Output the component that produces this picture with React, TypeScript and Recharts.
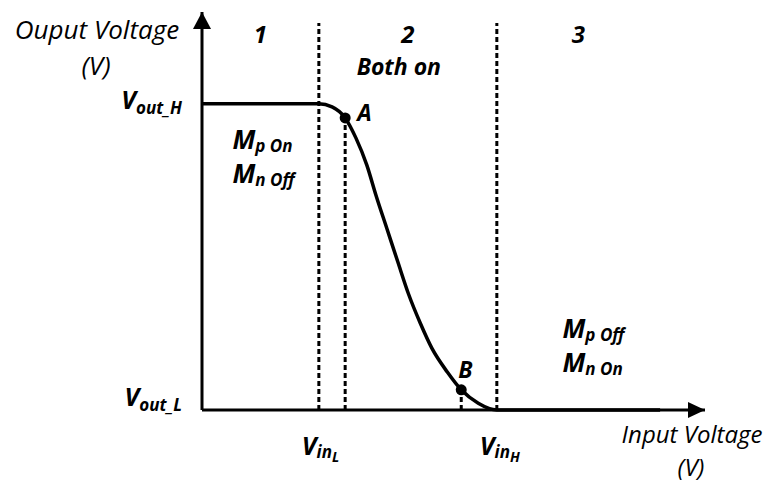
import React from "react";
import {
  LineChart,
  Line,
  XAxis,
  YAxis,
  ReferenceLine,
  ReferenceDot,
  ReferenceArea,
  Label,
} from "recharts";

// inverter transfer curve
const inputVoltage = [0, 1.51, 1.68, 1.85, 1.99, 2.13, 2.25, 2.39, 2.53, 2.67, 2.82, 2.97, 3.17, 3.35, 3.57, 3.81, 5.92];
const outputVoltage = [5, 5, 4.95, 4.77, 4.44, 4.0, 3.5, 2.96, 2.42, 1.89, 1.42, 1.01, 0.62, 0.33, 0.11, 0, 0];

const axisMax = 6.5;
const dashTop = 6.32;

const regionBounds = [0, 1.51, 3.81, 5.92];
const regionNames = ["1", "2", "3"];

const pointNames = ["A", "B"];
const pointVin = [1.85, 3.35];
const pointVout = [4.77, 0.33];

const outputTicks = [0, 5];
const outputTickSubs = ["out_L", "out_H"];
const inputTicks = [1.51, 3.81];
const inputTickSubs = ["L", "H"];

const data = inputVoltage.map((vin, i) => ({ vin, vout: outputVoltage[i] }));

const FONT = "'Open Sans', 'DejaVu Sans', sans-serif";
const bold = { fontFamily: FONT, fontWeight: 700, fontStyle: "italic" as const, fill: "#000" };
const plain = { fontFamily: FONT, fontWeight: 400, fontStyle: "italic" as const, fill: "#000" };

function OutTick(props: any) {
  const { x, y, payload } = props;
  const i = outputTicks.indexOf(payload.value);
  const dy = payload.value === 0 ? -4 : 5;
  return (
    <text x={x} y={y + dy} textAnchor="end" {...bold}>
      <tspan fontSize={25}>V</tspan>
      <tspan fontSize={17} dy={5}>{outputTickSubs[i]}</tspan>
    </text>
  );
}

function InTick(props: any) {
  const { x, y, payload } = props;
  const i = inputTicks.indexOf(payload.value);
  return (
    <text x={x - 17} y={y} {...bold}>
      <tspan fontSize={25}>V</tspan>
      <tspan fontSize={17} dy={3}>in</tspan>
      <tspan fontSize={14} dy={4}>{inputTickSubs[i]}</tspan>
    </text>
  );
}

function MLabel({ x, y, sub }: { x: number; y: number; sub: string }) {
  return (
    <text x={x} y={y} {...bold}>
      <tspan fontSize={26}>M</tspan>
      <tspan fontSize={17} dy={3}>{sub}</tspan>
    </text>
  );
}

function RegionLabel(props: any) {
  const { viewBox, idx } = props;
  const cx = viewBox.x + viewBox.width / 2;
  return (
    <g>
      <text x={cx} y={43} textAnchor="middle" fontSize={24} {...bold}>
        {regionNames[idx]}
      </text>
      {idx === 0 && (
        <>
          <MLabel x={cx - 28} y={149} sub="p On" />
          <MLabel x={cx - 28} y={183} sub="n Off" />
        </>
      )}
      {idx === 1 && (
        <text x={cx - 9} y={75} textAnchor="middle" fontSize={23} {...bold}>
          Both on
        </text>
      )}
      {idx === 2 && (
        <>
          <MLabel x={cx - 16} y={338} sub="p Off" />
          <MLabel x={cx - 16} y={372} sub="n On" />
        </>
      )}
    </g>
  );
}

function YTitle() {
  return (
    <g>
      <text x={97} y={39} textAnchor="middle" fontSize={26} {...plain}>Ouput Voltage</text>
      <text x={96} y={75} textAnchor="middle" fontSize={26} {...plain}>(V)</text>
    </g>
  );
}

function XTitle() {
  return (
    <g>
      <text x={692} y={443} textAnchor="middle" fontSize={24} {...plain}>Input Voltage</text>
      <text x={691} y={476} textAnchor="middle" fontSize={24} {...plain}>(V)</text>
    </g>
  );
}

const pointShape = (idx: number) => (p: any) => {
  const dx = idx === 0 ? 12 : -3;
  const dy = idx === 0 ? 3 : -12;
  return (
    <g>
      <circle cx={p.cx} cy={p.cy} r={5.5} fill="#000" />
      <text x={p.cx + dx} y={p.cy + dy} fontSize={23} {...bold}>
        {pointNames[idx]}
      </text>
    </g>
  );
};

const upArrow = (p: any) => (
  <polygon points={`${p.cx},${p.cy} ${p.cx - 9},${p.cy + 17} ${p.cx + 9},${p.cy + 17}`} fill="#000" />
);
const rightArrow = (p: any) => (
  <polygon points={`${p.cx},${p.cy} ${p.cx - 17},${p.cy - 8} ${p.cx - 17},${p.cy + 8}`} fill="#000" />
);

const dash = { stroke: "#000", strokeWidth: 3, strokeDasharray: "5 3" };

export default function App() {
  return (
    <div style={{ position: "absolute", left: 0, top: 0, width: 776, height: 482, background: "#fff" }}>
      <LineChart width={776} height={482} data={data} margin={{ top: 12, right: 71, bottom: 0, left: 0 }}>
        <XAxis
          dataKey="vin"
          type="number"
          domain={[0, axisMax]}
          ticks={inputTicks}
          interval={0}
          height={72}
          axisLine={{ stroke: "#000", strokeWidth: 3 }}
          tickLine={false}
          tickSize={0}
          tickMargin={45}
          tick={<InTick />}
          label={<Label content={<XTitle />} />}
        />
        <YAxis
          type="number"
          domain={[0, axisMax]}
          ticks={outputTicks}
          interval={0}
          width={202}
          axisLine={{ stroke: "#000", strokeWidth: 3 }}
          tickLine={false}
          tickSize={0}
          tickMargin={20}
          tick={<OutTick />}
          label={<Label content={<YTitle />} />}
        />
        {regionNames.map((_, i) => (
          <ReferenceArea
            key={i}
            x1={regionBounds[i]}
            x2={regionBounds[i + 1]}
            fill="none"
            fillOpacity={0}
            stroke="none"
            ifOverflow="visible"
            label={<RegionLabel idx={i} />}
          />
        ))}
        <ReferenceLine segment={[{ x: regionBounds[1], y: 0 }, { x: regionBounds[1], y: dashTop }]} {...dash} ifOverflow="visible" />
        <ReferenceLine segment={[{ x: regionBounds[2], y: 0 }, { x: regionBounds[2], y: dashTop }]} {...dash} ifOverflow="visible" />
        {pointNames.map((_, i) => (
          <ReferenceLine
            key={"d" + i}
            segment={[{ x: pointVin[i], y: 0 }, { x: pointVin[i], y: pointVout[i] }]}
            {...dash}
            ifOverflow="visible"
          />
        ))}
        <Line
          type="monotone"
          dataKey="vout"
          stroke="#000"
          strokeWidth={3.5}
          dot={false}
          activeDot={false}
          isAnimationActive={false}
        />
        {pointNames.map((_, i) => (
          <ReferenceDot key={"p" + i} x={pointVin[i]} y={pointVout[i]} ifOverflow="visible" shape={pointShape(i)} />
        ))}
        <ReferenceDot x={0} y={axisMax} ifOverflow="visible" shape={upArrow} />
        <ReferenceDot x={axisMax} y={0} ifOverflow="visible" shape={rightArrow} />
      </LineChart>
    </div>
  );
}
